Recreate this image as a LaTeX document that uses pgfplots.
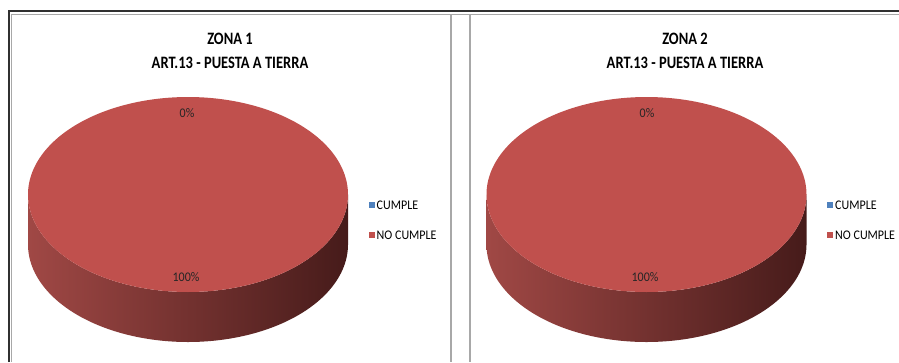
\documentclass[border=0pt]{standalone}
\usepackage{pgfplots}
\usepackage{pgfplotstable}
\pgfplotsset{compat=1.18}
\usepackage{fontspec}
\setmainfont{Carlito}
\definecolor{pieRed}{HTML}{C0504D}
\definecolor{pieBlue}{HTML}{4F81BD}
\definecolor{sideL}{HTML}{A04845}
\definecolor{sideR}{HTML}{461B1A}
\definecolor{frameDark}{HTML}{303030}
\definecolor{frameGray}{HTML}{A8A8A8}

\pgfplotstableread{
cat value
CUMPLE 0
NOCUMPLE 100
}\zonaone
\pgfplotstableread{
cat value
CUMPLE 0
NOCUMPLE 100
}\zonatwo

\pgfplotstablegetelem{1}{value}\of\zonaone \let\vNoA\pgfplotsretval
\pgfplotstablegetelem{0}{value}\of\zonaone \let\vSiA\pgfplotsretval
\pgfplotstablegetelem{1}{value}\of\zonatwo \let\vNoB\pgfplotsretval
\pgfplotstablegetelem{0}{value}\of\zonatwo \let\vSiB\pgfplotsretval

\pgfmathsetmacro{\endA}{90-3.6*\vNoA}
\pgfmathsetmacro{\endB}{90-3.6*\vNoB}

\def\cyP{194.5}
\def\rxP{160}
\def\ryP{97.5}
\def\dP{50}

\begin{document}
\begin{tikzpicture}
\begin{axis}[
  name=ax,
  width=899pt, height=362pt, scale only axis,
  xmin=0, xmax=899, ymin=0, ymax=362,
  y dir=reverse,
  hide axis, clip=false,
  /pgf/number format/assume math mode=true,
]
% frames
\draw[frameDark, line width=2pt] (axis cs:8.5,362) -- (axis cs:8.5,11) -- (axis cs:899,11);
\draw[frameGray, line width=1.2pt] (axis cs:11.5,362) -- (axis cs:11.5,14.2) -- (axis cs:899,14.2);
\draw[frameGray, line width=1.2pt] (axis cs:451,14.2) -- (axis cs:451,362);
\draw[frameGray, line width=1.2pt] (axis cs:470,14.2) -- (axis cs:470,362);

% ---- pie 1 side band
\addplot[draw=none, left color=sideL, right color=sideR, domain=0:360, samples=361]
  ({188+\rxP*cos(x)}, {x<=180 ? \cyP+\ryP*sin(x) : \cyP+\dP-\ryP*sin(x)}) -- cycle;
% pie 1 top face (NO CUMPLE slice, from 12 o'clock clockwise)
\addplot[draw=none, fill=pieRed, domain=\endA:90, samples=241]
  ({188+\rxP*cos(x)}, {\cyP-\ryP*sin(x)}) -- cycle;

% ---- pie 2 side band
\addplot[draw=none, left color=sideL, right color=sideR, domain=0:360, samples=361]
  ({646.5+\rxP*cos(x)}, {x<=180 ? \cyP+\ryP*sin(x) : \cyP+\dP-\ryP*sin(x)}) -- cycle;
\addplot[draw=none, fill=pieRed, domain=\endB:90, samples=241]
  ({646.5+\rxP*cos(x)}, {\cyP-\ryP*sin(x)}) -- cycle;

% titles
\begin{scope}[every node/.style={font=\fontsize{14.5}{16}\selectfont\bfseries, yscale=1.2, transform shape}]
\node at (axis cs:230,39) {ZONA 1};
\node at (axis cs:230,62.5) {ART.13 - PUESTA A TIERRA};
\node at (axis cs:685,39) {ZONA 2};
\node at (axis cs:685,62.5) {ART.13 - PUESTA A TIERRA};
\end{scope}

% data labels
\begin{scope}[every node/.style={font=\fontsize{12}{14}\selectfont, text=black!85, yscale=1.1, transform shape}]
\node at (axis cs:187,113) {\pgfmathprintnumber{\vSiA}\%};
\node at (axis cs:186,277) {\pgfmathprintnumber{\vNoA}\%};
\node at (axis cs:647,113) {\pgfmathprintnumber{\vSiB}\%};
\node at (axis cs:645,277) {\pgfmathprintnumber{\vNoB}\%};
\end{scope}

% legends
\fill[pieBlue] (axis cs:368.5,201.5) rectangle (axis cs:374.5,207.5);
\fill[pieRed] (axis cs:368.5,231.5) rectangle (axis cs:374.5,237.5);
\fill[pieBlue] (axis cs:827,201.5) rectangle (axis cs:833,207.5);
\fill[pieRed] (axis cs:827,231.5) rectangle (axis cs:833,237.5);
\begin{scope}[every node/.style={anchor=west, font=\fontsize{12}{14}\selectfont, inner sep=0pt, yscale=1.1, transform shape}]
\node at (axis cs:376.5,205.5) {CUMPLE};
\node at (axis cs:376.5,235.5) {NO CUMPLE};
\node at (axis cs:835,205.5) {CUMPLE};
\node at (axis cs:835,235.5) {NO CUMPLE};
\end{scope}
\end{axis}
\pgfresetboundingbox
\path (ax.south west) rectangle (ax.north east);
\end{tikzpicture}
\end{document}
